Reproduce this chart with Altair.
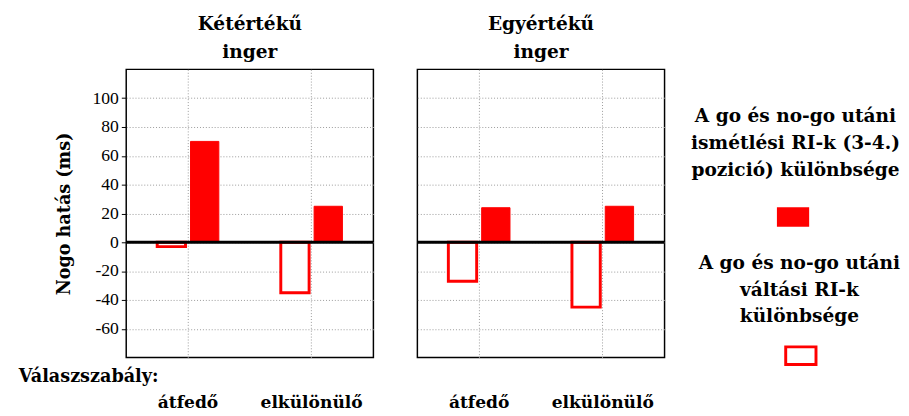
import altair as alt
import pandas as pd

categories = ["átfedő", "elkülönülő"]
series = ["váltási", "ismétlési"]
panel_titles = [["Kétértékű", "inger"], ["Egyértékű", "inger"]]
ismetlesi_ket = [70, 25]
valtasi_ket = [-3, -35]
ismetlesi_egy = [24, 25]
valtasi_egy = [-27, -45]
y_ticks = [-60, -40, -20, 0, 20, 40, 60, 80, 100]
legend_ismetlesi = ["A go és no-go utáni", "ismétlési RI-k (3-4.)", "pozició) különbsége"]
legend_valtasi = ["A go és no-go utáni", "váltási RI-k", "különbsége"]
axis_title = "Nogo hatás (ms)"
rule_label = ["Válaszszabály:"]

RED = "#ff0000"
BFONT = "DejaVu Serif"
NFONT = "Liberation Serif"
W, H = 253, 295


def make_df(rep, sw):
    rows = []
    for c, v in zip(categories, sw):
        rows.append({"cat": c, "series": series[0], "value": v})
    for c, v in zip(categories, rep):
        rows.append({"cat": c, "series": series[1], "value": v})
    return pd.DataFrame(rows)


one = pd.DataFrame({"k": [0]})


def panel(df, title, first):
    x = alt.X(
        "cat:N", sort=categories,
        scale=alt.Scale(domain=categories, paddingInner=0, paddingOuter=0),
        axis=alt.Axis(title=None, labelAngle=0, labelFont=BFONT, labelFontWeight="bold",
                      labelFontSize=17.5, labelColor="black", labelPadding=37, ticks=False,
                      domain=False, grid=True, gridDash=[1, 2], gridColor="#999",
                      bandPosition=0.5),
    )
    xo = alt.XOffset("series:N", sort=series,
                     scale=alt.Scale(domain=series, paddingInner=0.15, paddingOuter=0.93))
    yscale = alt.Scale(domain=[-80, 120], nice=False, zero=False)
    if first:
        yaxis = alt.Axis(title=axis_title, values=y_ticks, labelExpr="toString(datum.value)",
                         labelFont=NFONT, labelFontSize=18, labelColor="black", tickSize=5,
                         tickColor="black", labelPadding=3, labelOverlap=False,
                         domain=False, grid=True,
                         gridDash=[1, 2], gridColor="#999", titleFont=BFONT,
                         titleFontWeight="bold", titleFontSize=18, titleColor="black",
                         titlePadding=19)
    else:
        yaxis = alt.Axis(title=None, values=y_ticks, labels=False, ticks=False, domain=False,
                         grid=True, gridDash=[1, 2], gridColor="#999", labelOverlap=False)
    y = alt.Y("value:Q", scale=yscale, axis=yaxis, stack=None)
    base = alt.Chart(df)
    filled = base.transform_filter(alt.datum.series == series[1]).mark_bar(
        color=RED, stroke=RED, strokeWidth=1).encode(x=x, xOffset=xo, y=y)
    outline = base.transform_filter(alt.datum.series == series[0]).mark_bar(
        fill="white", stroke=RED, strokeWidth=3).encode(x=x, xOffset=xo, y=y)
    zero = alt.Chart(one).mark_rule(color="black", strokeWidth=3).encode(
        y=alt.YDatum(0, scale=yscale, axis=yaxis))
    layers = [outline, filled, zero]
    if first:
        lab = alt.Chart(pd.DataFrame({"t": rule_label})).mark_text(
            align="left", baseline="middle", font=BFONT, fontWeight="bold", fontSize=18,
            color="black").encode(text="t:N", x=alt.value(-110), y=alt.value(H + 20))
        layers.append(lab)
    else:
        t1 = alt.Chart(one).mark_text(text=legend_ismetlesi, lineHeight=27.5, align="center",
                                      baseline="middle", font=BFONT, fontWeight="bold",
                                      fontSize=19, color="black").encode(
            x=alt.value(387), y=alt.value(48))
        r1 = alt.Chart(one).mark_rect(fill=RED).encode(
            x=alt.value(368), x2=alt.value(401), y=alt.value(141), y2=alt.value(161))
        t2 = alt.Chart(one).mark_text(text=legend_valtasi, lineHeight=27.5, align="center",
                                      baseline="middle", font=BFONT, fontWeight="bold",
                                      fontSize=19, color="black").encode(
            x=alt.value(391), y=alt.value(198))
        r2 = alt.Chart(one).mark_rect(fill="white", stroke=RED, strokeWidth=3).encode(
            x=alt.value(377), x2=alt.value(408), y=alt.value(284), y2=alt.value(302))
        layers += [t1, r1, t2, r2]
    return alt.layer(*layers).properties(
        width=W, height=H,
        title=alt.TitleParams(text=title, font=BFONT, fontWeight="bold", fontSize=19,
                              lineHeight=28, anchor="middle", offset=8, color="black"))


p1 = panel(make_df(ismetlesi_ket, valtasi_ket), panel_titles[0], True)
p2 = panel(make_df(ismetlesi_egy, valtasi_egy), panel_titles[1], False)

chart = alt.hconcat(p1, p2, spacing=39).properties(
    padding={"left": 10, "top": 2, "right": 0, "bottom": 0}
).configure_view(stroke="black", strokeWidth=1.5)

chart.save("out.html", embed_options={"renderer": "svg", "actions": False})
